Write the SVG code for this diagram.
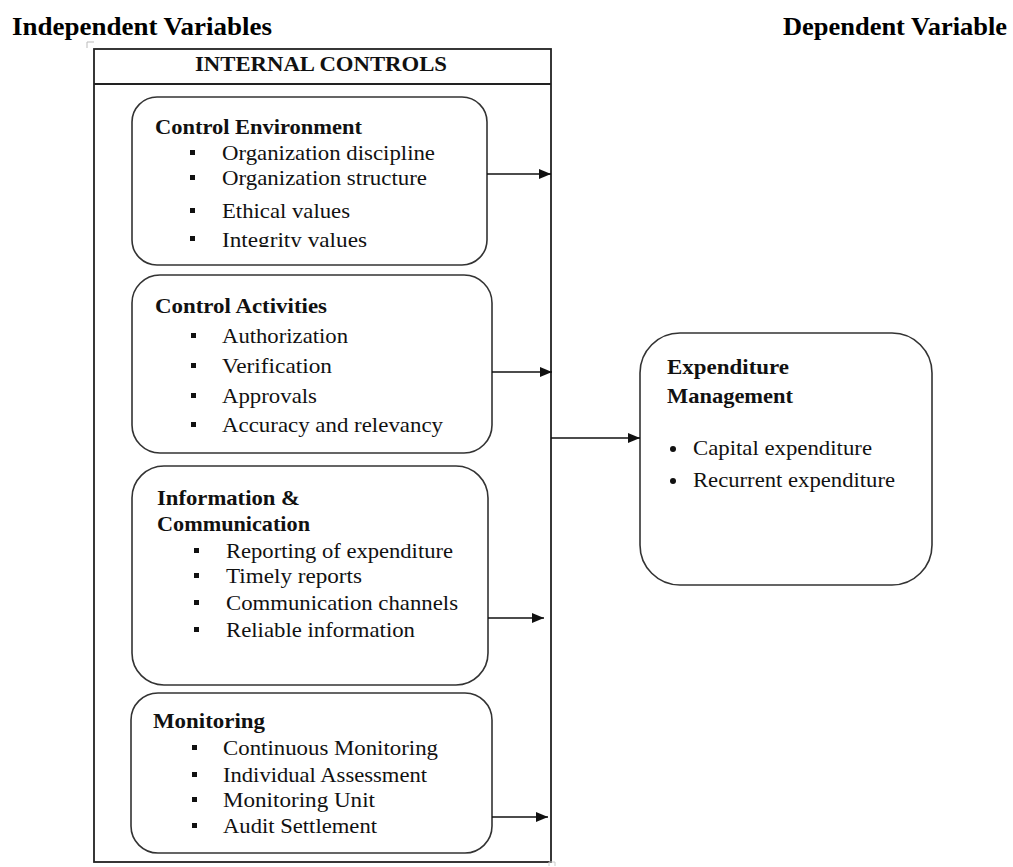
<svg xmlns="http://www.w3.org/2000/svg" width="1013" height="867" viewBox="0 0 1013 867">
<style>
.t{font-family:"Liberation Serif","Times New Roman",serif;font-size:21px;fill:#111}
.b{font-weight:bold}
.h{font-family:"Liberation Serif","Times New Roman",serif;font-size:26px;font-weight:bold;fill:#000}
.box{fill:#fff;stroke:#333;stroke-width:1.6}
.outer{fill:none;stroke:#222;stroke-width:1.8}
.conn{stroke:#111;stroke-width:1.5;fill:none}
.sq{fill:#111}
</style>
<defs>
<marker id="arr" markerUnits="userSpaceOnUse" markerWidth="13" markerHeight="10" refX="12" refY="5" orient="auto">
<path d="M0,0 L12,5 L0,10 Z" fill="#111"/>
</marker>
<clipPath id="clip1"><rect x="130" y="95" width="360" height="152"/></clipPath>
</defs>

<g id="headers">
<text class="h" x="12" y="35" textLength="260" lengthAdjust="spacingAndGlyphs">Independent Variables</text>
<text class="h" x="783" y="35" textLength="224" lengthAdjust="spacingAndGlyphs">Dependent Variable</text>
</g>

<g id="internal-controls">
<rect class="outer" x="94" y="49" width="457" height="813"/>
<line x1="94" y1="84" x2="551" y2="84" stroke="#222" stroke-width="1.8"/>
<text class="t b" x="195" y="71" style="font-size:22px" textLength="252" lengthAdjust="spacingAndGlyphs">INTERNAL  CONTROLS</text>
<path d="M87,48 V42 H94" fill="none" stroke="#bbb" stroke-width="1"/>
<path d="M549,866 V862 H555 V866" fill="none" stroke="#ccc" stroke-width="1"/>
</g>

<g id="control-environment">
<rect class="box" x="132" y="97" width="355" height="168" rx="25" ry="25"/>
<text class="t b" x="155" y="134" textLength="207" lengthAdjust="spacingAndGlyphs">Control Environment</text>
<rect class="sq" x="190" y="150" width="5" height="5"/>
<text class="t" x="222" y="160" textLength="213" lengthAdjust="spacingAndGlyphs">Organization discipline</text>
<rect class="sq" x="190" y="175" width="5" height="5"/>
<text class="t" x="222" y="185" textLength="205" lengthAdjust="spacingAndGlyphs">Organization structure</text>
<rect class="sq" x="190" y="208" width="5" height="5"/>
<text class="t" x="222" y="218" textLength="128" lengthAdjust="spacingAndGlyphs">Ethical values</text>
<g clip-path="url(#clip1)">
<rect class="sq" x="190" y="236" width="5" height="5"/>
<text class="t" x="222" y="247" textLength="145" lengthAdjust="spacingAndGlyphs">Integrity values</text>
</g>
</g>

<g id="control-activities">
<rect class="box" x="132" y="275" width="360" height="178" rx="28" ry="28"/>
<text class="t b" x="155" y="313" textLength="172" lengthAdjust="spacingAndGlyphs">Control Activities</text>
<rect class="sq" x="191" y="333" width="5" height="5"/>
<text class="t" x="222" y="343" textLength="126" lengthAdjust="spacingAndGlyphs">Authorization</text>
<rect class="sq" x="191" y="363" width="5" height="5"/>
<text class="t" x="222" y="373" textLength="110" lengthAdjust="spacingAndGlyphs">Verification</text>
<rect class="sq" x="191" y="393" width="5" height="5"/>
<text class="t" x="222" y="403" textLength="95" lengthAdjust="spacingAndGlyphs">Approvals</text>
<rect class="sq" x="191" y="422" width="5" height="5"/>
<text class="t" x="222" y="432" textLength="221" lengthAdjust="spacingAndGlyphs">Accuracy and relevancy</text>
</g>

<g id="information-communication">
<rect class="box" x="132" y="466" width="356" height="219" rx="32" ry="32"/>
<text class="t b" x="157" y="505" textLength="143" lengthAdjust="spacingAndGlyphs">Information &amp;</text>
<text class="t b" x="157" y="531" textLength="153" lengthAdjust="spacingAndGlyphs">Communication</text>
<rect class="sq" x="194" y="548" width="5" height="5"/>
<text class="t" x="226" y="558" textLength="227" lengthAdjust="spacingAndGlyphs">Reporting of expenditure</text>
<rect class="sq" x="194" y="573" width="5" height="5"/>
<text class="t" x="226" y="583" textLength="136" lengthAdjust="spacingAndGlyphs">Timely reports</text>
<rect class="sq" x="194" y="600" width="5" height="5"/>
<text class="t" x="226" y="610" textLength="232" lengthAdjust="spacingAndGlyphs">Communication channels</text>
<rect class="sq" x="194" y="627" width="5" height="5"/>
<text class="t" x="226" y="637" textLength="189" lengthAdjust="spacingAndGlyphs">Reliable information</text>
</g>

<g id="monitoring">
<rect class="box" x="131" y="693" width="361" height="160" rx="27" ry="27"/>
<text class="t b" x="153" y="728" textLength="112" lengthAdjust="spacingAndGlyphs">Monitoring</text>
<rect class="sq" x="192" y="745" width="5" height="5"/>
<text class="t" x="223" y="755" textLength="215" lengthAdjust="spacingAndGlyphs">Continuous Monitoring</text>
<rect class="sq" x="192" y="772" width="5" height="5"/>
<text class="t" x="223" y="782" textLength="204" lengthAdjust="spacingAndGlyphs">Individual Assessment</text>
<rect class="sq" x="192" y="797" width="5" height="5"/>
<text class="t" x="223" y="807" textLength="152" lengthAdjust="spacingAndGlyphs">Monitoring Unit</text>
<rect class="sq" x="192" y="823" width="5" height="5"/>
<text class="t" x="223" y="833" textLength="154" lengthAdjust="spacingAndGlyphs">Audit Settlement</text>
</g>

<g id="expenditure-management">
<rect class="box" x="640" y="333" width="292" height="252" rx="40" ry="40"/>
<text class="t b" x="667" y="374" textLength="122" lengthAdjust="spacingAndGlyphs">Expenditure</text>
<text class="t b" x="667" y="403" textLength="126" lengthAdjust="spacingAndGlyphs">Management</text>
<circle cx="673" cy="449" r="3" fill="#111"/>
<text class="t" x="693" y="455" textLength="179" lengthAdjust="spacingAndGlyphs">Capital expenditure</text>
<circle cx="673" cy="481" r="3" fill="#111"/>
<text class="t" x="693" y="487" textLength="202" lengthAdjust="spacingAndGlyphs">Recurrent expenditure</text>
</g>

<g id="connectors">
<line class="conn" x1="487" y1="174" x2="551" y2="174" marker-end="url(#arr)"/>
<line class="conn" x1="492" y1="372" x2="552" y2="372" marker-end="url(#arr)"/>
<line class="conn" x1="488" y1="618" x2="544" y2="618" marker-end="url(#arr)"/>
<line class="conn" x1="492" y1="817" x2="548" y2="817" marker-end="url(#arr)"/>
<line class="conn" x1="551" y1="438" x2="640" y2="438" marker-end="url(#arr)"/>
</g>
</svg>
